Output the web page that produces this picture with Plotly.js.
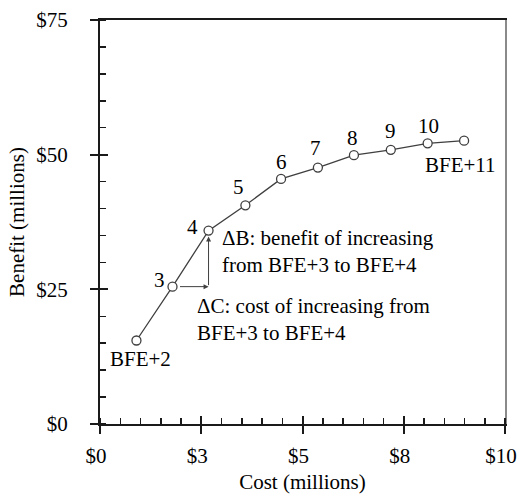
<!DOCTYPE html>
<html>
<head>
<meta charset="utf-8">
<script src="https://cdn.plot.ly/plotly-3.0.1.min.js"></script>
<style>html,body{margin:0;padding:0;background:#fff;}#chart{width:522px;height:494px;}</style>
</head>
<body>
<div id="chart"></div>
<script>
// ---- data ----
const pointLabels = ['BFE+2', '3', '4', '5', '6', '7', '8', '9', '10', 'BFE+11'];
const cost = [0.90, 1.79, 2.68, 3.59, 4.47, 5.38, 6.27, 7.18, 8.09, 8.99];      // $ millions
const benefit = [15.5, 25.5, 35.9, 40.6, 45.5, 47.6, 49.9, 50.9, 52.1, 52.6];   // $ millions
const xTickVals = [0, 2.5, 5, 7.5, 10];
const xTickText = ['$0', '$3', '$5', '$8', '$10'];
const yTickVals = [0, 25, 50, 75];
const yTickText = ['$0', '$25', '$50', '$75'];
const noteB = 'ΔB: benefit of increasing<br>from BFE+3 to BFE+4';
const noteC = 'ΔC: cost of increasing from<br>BFE+3 to BFE+4';

// ---- styling ----
const FONT = '"Times New Roman", Tinos, "Liberation Serif", "DejaVu Serif", serif';
const DARK = '#3f3f3f';
const AX = '#1a1a1a';
// pixel offsets of each point label (style, not data)
const labelShift = [[4, -18], [-13, 7], [-16, 4], [-7, 18], [0, 17], [-2, 20], [-1, 17], [0, 18.5], [1, 17], [-4, -24]];

const traces = [
  {
    x: cost, y: benefit, type: 'scatter', mode: 'lines+markers',
    line: {color: DARK, width: 1.3},
    marker: {symbol: 'circle', size: 9, color: '#ffffff', line: {color: DARK, width: 1.3}},
    hoverinfo: 'skip', showlegend: false
  },
  {x: cost, y: benefit, xaxis: 'x2', yaxis: 'y2', type: 'scatter', mode: 'none', hoverinfo: 'skip', showlegend: false},
  {x: cost, y: benefit, xaxis: 'x', yaxis: 'y3', type: 'scatter', mode: 'none', hoverinfo: 'skip', showlegend: false}
];

const annotations = pointLabels.map((t, i) => ({
  x: cost[i], y: benefit[i], xref: 'x', yref: 'y', text: t, showarrow: false,
  xanchor: 'center', yanchor: 'middle', xshift: labelShift[i][0], yshift: labelShift[i][1],
  font: {family: FONT, size: 21, color: '#000'}
}));

// delta-C arrow (horizontal, from point 3 to cost of point 4)
annotations.push({
  x: cost[2], y: benefit[1], ax: cost[1], ay: benefit[1], xref: 'x', yref: 'y', axref: 'x', ayref: 'y',
  text: '', showarrow: true, arrowhead: 2, arrowsize: 1, arrowwidth: 1, arrowcolor: DARK,
  startstandoff: 6, standoff: 0
});
// delta-B arrow (vertical, up to point 4)
annotations.push({
  x: cost[2], y: benefit[2], ax: cost[2], ay: benefit[1], xref: 'x', yref: 'y', axref: 'x', ayref: 'y',
  text: '', showarrow: true, arrowhead: 2, arrowsize: 1, arrowwidth: 1, arrowcolor: DARK,
  startstandoff: 0, standoff: 6
});
annotations.push({
  x: cost[2], y: benefit[2], xref: 'x', yref: 'y', text: noteB, showarrow: false, align: 'left',
  xanchor: 'left', yanchor: 'middle', xshift: 11, yshift: -21,
  font: {family: FONT, size: 21, color: '#000'}
});
annotations.push({
  x: cost[1], y: benefit[1], xref: 'x', yref: 'y', text: noteC, showarrow: false, align: 'left',
  xanchor: 'left', yanchor: 'middle', xshift: 22, yshift: -33,
  font: {family: FONT, size: 21, color: '#000'}
});

const layout = {
  width: 522, height: 494,
  margin: {l: 99.5, r: 16.7, t: 20, b: 69.7, pad: 0},
  paper_bgcolor: '#fff', plot_bgcolor: '#fff',
  font: {family: FONT, size: 21, color: '#000'},
  showlegend: false,
  xaxis: {
    range: [0, 10], tickmode: 'array', tickvals: xTickVals, ticktext: xTickText,
    ticks: 'outside', ticklen: 8, tickwidth: 2, tickcolor: AX,
    showline: true, linecolor: AX, linewidth: 2, mirror: true,
    showgrid: false, zeroline: false, ticklabelshift: -4, ticklabelstandoff: 4,
    tickfont: {family: FONT, size: 21, color: '#000'},
    minor: {tickmode: 'linear', tick0: 0, dtick: 0.5, ticks: 'inside', ticklen: 6, tickwidth: 1.5, tickcolor: AX, showgrid: false},
    title: {text: 'Cost (millions)', font: {family: FONT, size: 21, color: '#000'}, standoff: 8}
  },
  xaxis2: {
    overlaying: 'x', anchor: 'y', side: 'bottom', range: [0, 10],
    tickmode: 'array', tickvals: xTickVals, ticks: 'inside', ticklen: 8, tickwidth: 2, tickcolor: AX,
    showticklabels: false, showline: false, showgrid: false, zeroline: false
  },
  yaxis: {
    range: [0, 75], tickmode: 'array', tickvals: yTickVals, ticktext: yTickText,
    ticks: 'outside', ticklen: 8, tickwidth: 2, tickcolor: AX,
    showline: true, linecolor: AX, linewidth: 2,
    showgrid: false, zeroline: false, ticklabelstandoff: 18,
    tickfont: {family: FONT, size: 21, color: '#000'},
    minor: {tickmode: 'linear', tick0: 0, dtick: 5, ticks: 'inside', ticklen: 6, tickwidth: 1.5, tickcolor: AX, showgrid: false},
    title: {text: 'Benefit (millions)', font: {family: FONT, size: 21, color: '#000'}, standoff: 6}
  },
  yaxis2: {
    overlaying: 'y', anchor: 'x', side: 'left', range: [0, 75],
    tickmode: 'array', tickvals: yTickVals, ticks: 'inside', ticklen: 8, tickwidth: 2, tickcolor: AX,
    showticklabels: false, showline: false, showgrid: false, zeroline: false
  },
  yaxis3: {
    overlaying: 'y', anchor: 'x', side: 'right', range: [0, 75],
    ticks: '', showticklabels: false, showline: true, linecolor: '#8a8a8a', linewidth: 1.5,
    showgrid: false, zeroline: false
  },
  annotations: annotations
};

Plotly.newPlot('chart', traces, layout, {staticPlot: true, displayModeBar: false});
</script>
</body>
</html>
